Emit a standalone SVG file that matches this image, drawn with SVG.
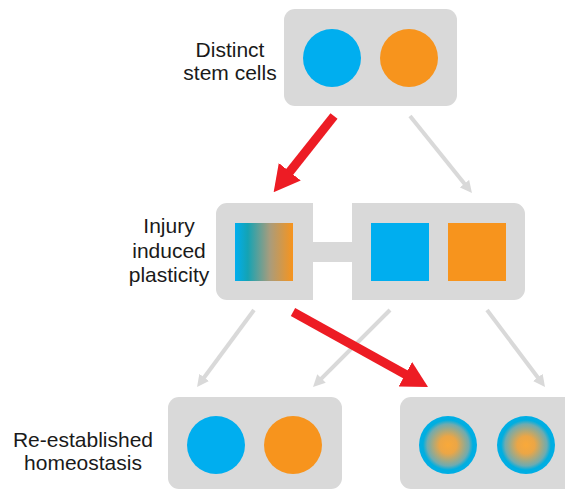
<svg xmlns="http://www.w3.org/2000/svg" width="565" height="490" viewBox="0 0 565 490">
<style>
.box{fill:#D9D9D9}
.lbl{font-family:"Liberation Sans",Arial,sans-serif;font-size:21px;fill:#1a1a1a;text-anchor:middle}
.red{stroke:#ED1C24;stroke-width:9;fill:none}
.gray{stroke:#D9D9D9;stroke-width:4;fill:none}
</style>
<defs>
<marker id="rh" viewBox="0 0 26 28" refX="4" refY="14" markerWidth="26" markerHeight="28" markerUnits="userSpaceOnUse" orient="auto"><path d="M0,0 L26,14 L0,28 z" fill="#ED1C24"/></marker>
<marker id="gh" viewBox="0 0 12 12" refX="2" refY="6" markerWidth="12" markerHeight="12" markerUnits="userSpaceOnUse" orient="auto"><path d="M0,0 L12,6 L0,12 z" fill="#D9D9D9"/></marker>
<linearGradient id="sq" x1="0" y1="0" x2="1" y2="0">
<stop offset="0" stop-color="#00AEEF"/>
<stop offset="0.22" stop-color="#14A3B4"/>
<stop offset="0.6" stop-color="#A99C7C"/>
<stop offset="1" stop-color="#F7941D"/>
</linearGradient>
<radialGradient id="rc" cx="0.5" cy="0.5" r="0.5">
<stop offset="0" stop-color="#F9A93A"/>
<stop offset="0.3" stop-color="#EBA646"/>
<stop offset="0.72" stop-color="#6FABB0"/>
<stop offset="0.86" stop-color="#00AEDF"/>
<stop offset="1" stop-color="#00AEE6"/>
</radialGradient>
</defs>
<g id="top">
<rect class="box" x="284" y="9" width="173" height="97" rx="11"/>
<circle cx="332" cy="58" r="29" fill="#00AEEF"/>
<circle cx="409" cy="58" r="29" fill="#F7941D"/>
<text class="lbl" x="230" y="57">Distinct</text>
<text class="lbl" x="230" y="80">stem cells</text>
</g>
<g id="middle">
<path class="box" d="M227,203 H313 V242 H352 V203 H514 A11,11 0 0 1 525,214 V289 A11,11 0 0 1 514,300 H352 V262 H313 V300 H227 A11,11 0 0 1 216,289 V214 A11,11 0 0 1 227,203 Z"/>
<rect x="235" y="223" width="58" height="58" fill="url(#sq)"/>
<rect x="371" y="223" width="58" height="58" fill="#00AEEF"/>
<rect x="448" y="223" width="58" height="58" fill="#F7941D"/>
<text class="lbl" x="169" y="233">Injury</text>
<text class="lbl" x="169" y="258">induced</text>
<text class="lbl" x="169" y="282">plasticity</text>
</g>
<g id="bottom-left">
<rect class="box" x="168" y="397" width="174" height="92" rx="11"/>
<circle cx="216" cy="445" r="29" fill="#00AEEF"/>
<circle cx="293" cy="445" r="29" fill="#F7941D"/>
<text class="lbl" x="83" y="447">Re-established</text>
<text class="lbl" x="83" y="470">homeostasis</text>
</g>
<g id="bottom-right">
<rect class="box" x="400" y="397" width="180" height="92" rx="11"/>
<circle cx="448" cy="445" r="29" fill="url(#rc)"/>
<circle cx="526" cy="445" r="29" fill="url(#rc)"/>
</g>
<g id="connectors">
<line class="gray" x1="410" y1="116" x2="465.7" y2="185.2" marker-end="url(#gh)"/>
<line class="gray" x1="254" y1="310" x2="203" y2="379" marker-end="url(#gh)"/>
<line class="gray" x1="390" y1="310" x2="320.1" y2="379.9" marker-end="url(#gh)"/>
<line class="gray" x1="487" y1="310" x2="539" y2="379" marker-end="url(#gh)"/>
<line class="red" x1="334" y1="116" x2="287.3" y2="174.9" marker-end="url(#rh)"/>
<line class="red" x1="293" y1="312" x2="408.8" y2="376.3" marker-end="url(#rh)"/>
</g>
</svg>
